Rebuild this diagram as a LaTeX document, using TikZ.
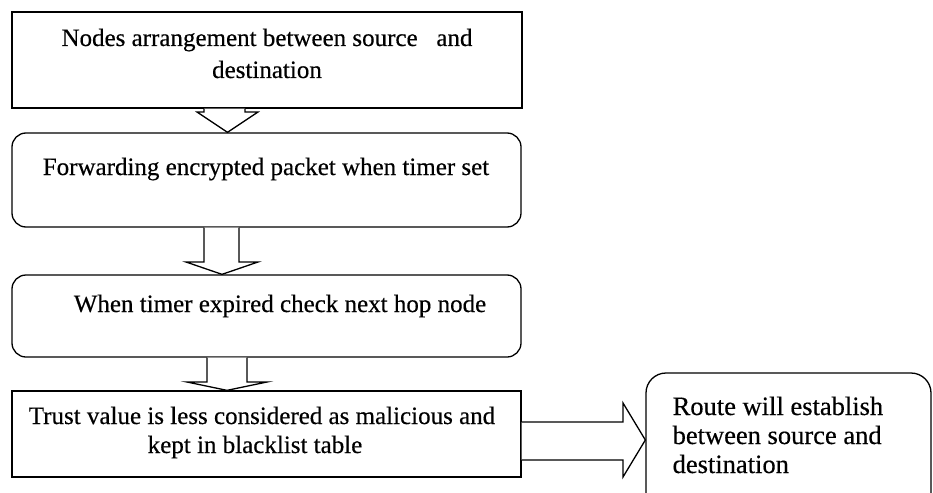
\documentclass[tikz,border=0pt]{standalone}
\usepackage{fontspec}
\setmainfont[FakeBold=0.4,AutoFakeBold=0]{Liberation Serif}
\newfontfamily\lblfont[FakeBold=0.4]{Liberation Serif}
\usetikzlibrary{calc}
\begin{document}
\begin{tikzpicture}[x=1pt,y=-1pt,line width=1.3pt,
  sqbox/.style={draw,rectangle,inner sep=0pt},
  rbox/.style={draw,rectangle,rounded corners=14pt,inner sep=0pt},
  lbl/.style={anchor=base,inner sep=0pt,font=\lblfont\fontsize{25}{29}\selectfont},
  lblw/.style={anchor=base west,inner sep=0pt,font=\lblfont\fontsize{26.5}{29}\selectfont},
  blk/.style={draw,fill=white,line join=miter}]
\useasboundingbox (0,0) rectangle (933,492);
% boxes
\node[sqbox,minimum width=510pt,minimum height=96pt] (b1) at (267,60) {};
\node[rbox,minimum width=509pt,minimum height=94pt] (b2) at (266.5,180) {};
\node[rbox,minimum width=509pt,minimum height=82pt] (b3) at (266.5,316) {};
\node[sqbox,minimum width=509pt,minimum height=86pt] (b4) at (266.5,434) {};
\node[rbox,rounded corners=20pt,minimum width=285pt,minimum height=147pt] (b5) at (788.5,446.5) {};
% texts
\node[lbl] (t1a) at (267,46) {Nodes arrangement between source\ \ \ and};
\node[lbl] (t1b) at (267,78) {destination};
\node[lbl] (t2) at (266,175) {Forwarding encrypted packet when timer set};
\node[lbl] (t3) at (280,312) {When timer expired check next hop node};
\node[lbl] (t4a) at (262,424) {Trust value is less considered as malicious and};
\node[lbl] (t4b) at (255,453) {kept in blacklist table};
\node[lblw] (t5a) at (672,415) {Route will establish};
\node[lblw] (t5b) at (672,444) {between source and};
\node[lblw] (t5c) at (672,473) {destination};
% block arrows
\draw[blk] (b1.south -| 204,0) -- (204,112) -- (197,112) -- (b2.north -| 227.5,0) -- (258,112) -- (245,112) -- (b1.south -| 245,0);
\draw[blk] (b2.south -| 204,0) -- (204,262) -- (186,262) -- (b3.north -| 222,0) -- (258,262) -- (239,262) -- (b2.south -| 239,0);
\draw[blk] (b3.south -| 207,0) -- (207,382) -- (187,382) -- (b4.north -| 227,0) -- (267,382) -- (247,382) -- (b3.south -| 247,0);
\draw[blk] (b4.east |- 0,422) -- (623,422) -- (623,403) -- (b5.west |- 0,440) -- (623,477) -- (623,460) -- (b4.east |- 0,460);
\end{tikzpicture}
\end{document}
